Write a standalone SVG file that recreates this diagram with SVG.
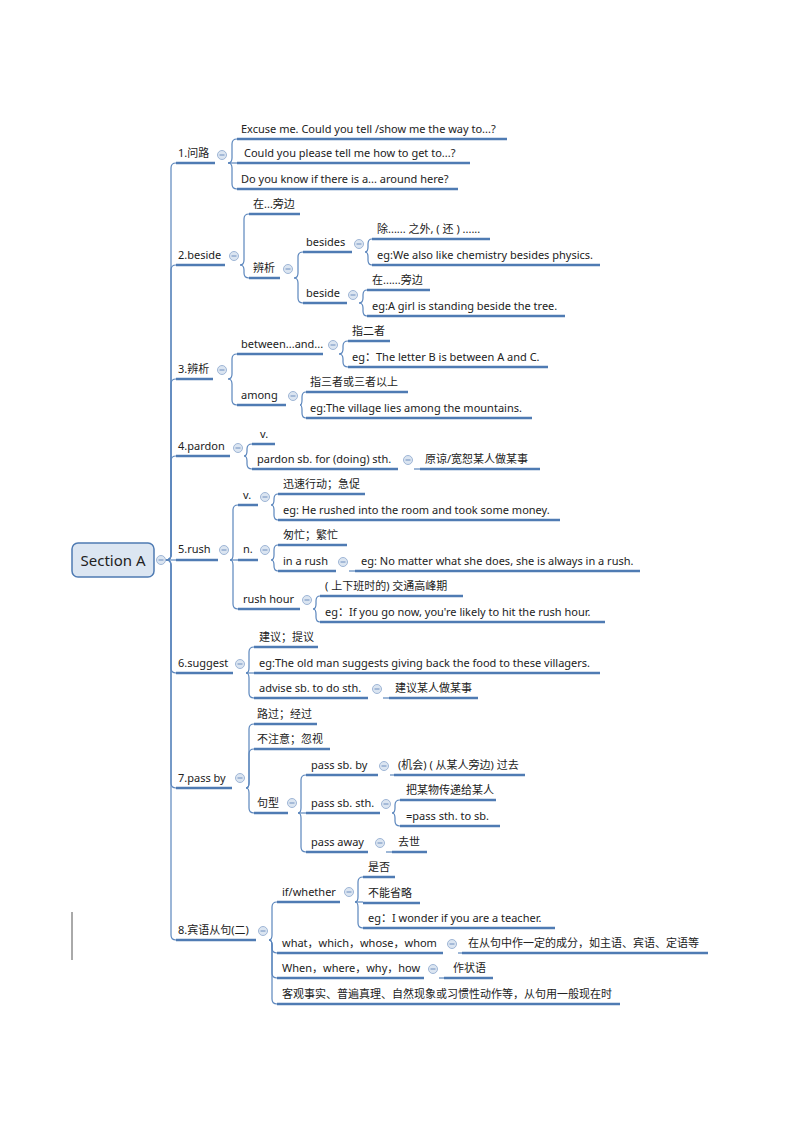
<svg xmlns="http://www.w3.org/2000/svg" xmlns:xlink="http://www.w3.org/1999/xlink" width="794" height="1123" viewBox="0 0 794 1123">
<style>
text{font-family:"Noto Sans","Noto Sans CJK SC",sans-serif;font-size:11px;fill:#222}
.u{stroke:#4f7bb3;stroke-width:2.5;fill:none}
.c path{stroke:#5b86bd;stroke-width:1.2;fill:none}
</style>
<defs>
<g id="m"><circle r="4.5" fill="#dbe5f1" stroke="#9fb6d6" stroke-width="1"/><line x1="-2.5" x2="2.5" stroke="#6f8fbf" stroke-width="1"/></g>
</defs>
<rect width="794" height="1123" fill="#fff"/>
<line x1="72" y1="912" x2="72" y2="960" stroke="#555" stroke-width="1"/>
<g class="c" id="connectors">
<path d="M166 560 Q171 560 171 555 V168 Q171 163 176 163"/>
<path d="M166 560 Q171 560 171 555 V270 Q171 265 176 265"/>
<path d="M166 560 Q171 560 171 555 V384 Q171 379 176 379"/>
<path d="M166 560 Q171 560 171 555 V461 Q171 456 176 456"/>
<path d="M166 560 H176"/>
<path d="M166 560 Q171 560 171 565 V668 Q171 673 176 673"/>
<path d="M166 560 Q171 560 171 565 V783 Q171 788 176 788"/>
<path d="M166 560 Q171 560 171 565 V935 Q171 940 176 940"/>
<path d="M228 163 Q232 163 232 158 V144 Q232 139 237 139"/>
<path d="M228 163 H237"/>
<path d="M228 163 Q232 163 232 168 V184 Q232 189 237 189"/>
<path d="M240 265 Q244 265 244 260 V219 Q244 214 249 214"/>
<path d="M240 265 Q244 265 244 270 V273 Q244 278 249 278"/>
<path d="M294 278 Q298 278 298 273 V257 Q298 252 303 252"/>
<path d="M294 278 Q298 278 298 283 V298 Q298 303 303 303"/>
<path d="M365 252 Q368 252 368 247 V244 Q368 239 372 239"/>
<path d="M365 252 Q368 252 368 257 V260 Q368 265 372 265"/>
<path d="M359 303 Q363 303 363 298 V295 Q363 290 367 290"/>
<path d="M359 303 Q363 303 363 308 V311 Q363 316 367 316"/>
<path d="M228 379 Q232 379 232 374 V359 Q232 354 237 354"/>
<path d="M228 379 Q232 379 232 384 V400 Q232 405 237 405"/>
<path d="M339 354 Q343 354 343 349 V346 Q343 341 348 341"/>
<path d="M339 354 Q343 354 343 359 V362 Q343 367 348 367"/>
<path d="M300 405 Q302 405 302 400 V397 Q302 392 306 392"/>
<path d="M300 405 Q302 405 302 410 V413 Q302 418 306 418"/>
<path d="M244 456 Q247 456 247 451 V449 Q247 444 252 444"/>
<path d="M244 456 Q247 456 247 461 V464 Q247 469 252 469"/>
<path d="M414 469 H420"/>
<path d="M230 560 Q233 560 233 555 V510 Q233 505 238 505"/>
<path d="M230 560 H238"/>
<path d="M230 560 Q233 560 233 565 V604 Q233 609 238 609"/>
<path d="M271 505 Q274 505 274 500 V499 Q274 494 278 494"/>
<path d="M271 505 Q274 505 274 510 V515 Q274 520 278 520"/>
<path d="M271 560 Q274 560 274 555 V550 Q274 545 278 545"/>
<path d="M271 560 Q274 560 274 565 V566 Q274 571 278 571"/>
<path d="M349 571 H355"/>
<path d="M313 609 Q316 609 316 604 V601 Q316 596 320 596"/>
<path d="M313 609 Q316 609 316 614 V617 Q316 622 320 622"/>
<path d="M246 673 Q249 673 249 668 V652 Q249 647 254 647"/>
<path d="M246 673 H254"/>
<path d="M246 673 Q249 673 249 678 V693 Q249 698 254 698"/>
<path d="M383 698 H389"/>
<path d="M246 788 Q249 788 249 783 V729 Q249 724 254 724"/>
<path d="M246 788 Q249 788 249 783 V754 Q249 749 254 749"/>
<path d="M246 788 Q249 788 249 793 V808 Q249 813 254 813"/>
<path d="M298 813 Q301 813 301 808 V780 Q301 775 306 775"/>
<path d="M298 813 H306"/>
<path d="M298 813 Q301 813 301 818 V847 Q301 852 306 852"/>
<path d="M390 775 H394"/>
<path d="M392 813 Q395 813 395 808 V805 Q395 800 400 800"/>
<path d="M392 813 Q395 813 395 818 V821 Q395 826 400 826"/>
<path d="M386 852 H392"/>
<path d="M269 940 Q272 940 272 935 V907 Q272 902 277 902"/>
<path d="M269 940 Q272 940 272 945 V948 Q272 953 277 953"/>
<path d="M269 940 Q272 940 272 945 V973 Q272 978 277 978"/>
<path d="M269 940 Q272 940 272 945 V999 Q272 1004 277 1004"/>
<path d="M355 902 Q358 902 358 897 V882 Q358 877 363 877"/>
<path d="M355 902 H363"/>
<path d="M355 902 Q358 902 358 907 V923 Q358 928 363 928"/>
<path d="M458 953 H462"/>
<path d="M439 978 H444"/>
</g>
<g id="root"><rect x="72" y="543" width="82" height="34" rx="6" fill="#dce6f2" stroke="#4f7bb3" stroke-width="1.5"/><text x="113" y="566" text-anchor="middle" style="font-size:15px">Section A</text><use xlink:href="#m" x="161" y="560"/></g>
<g id="n1"><text x="178" y="157">1.问路</text><line class="u" x1="176" y1="163" x2="215" y2="163"/><use xlink:href="#m" x="222" y="155"/></g>
<g id="n1a"><text x="241" y="133">Excuse me. Could you tell /show me the way to...?</text><line class="u" x1="237" y1="139" x2="507" y2="139"/></g>
<g id="n1b"><text x="244" y="157">Could you please tell me how to get to...?</text><line class="u" x1="237" y1="163" x2="470" y2="163"/></g>
<g id="n1c"><text x="241" y="183">Do you know if there is a... around here?</text><line class="u" x1="237" y1="189" x2="458" y2="189"/></g>
<g id="n2"><text x="178" y="259">2.beside</text><line class="u" x1="176" y1="265" x2="225" y2="265"/><use xlink:href="#m" x="234" y="256"/></g>
<g id="n2a"><text x="253" y="208">在...旁边</text><line class="u" x1="249" y1="214" x2="300" y2="214"/></g>
<g id="n2b"><text x="253" y="272">辨析</text><line class="u" x1="249" y1="278" x2="280" y2="278"/><use xlink:href="#m" x="288" y="269"/></g>
<g id="n2b1"><text x="306" y="246">besides</text><line class="u" x1="303" y1="252" x2="352" y2="252"/><use xlink:href="#m" x="359" y="244"/></g>
<g id="n2b2"><text x="306" y="297">beside</text><line class="u" x1="303" y1="303" x2="347" y2="303"/><use xlink:href="#m" x="353" y="295"/></g>
<g id="n2b1a"><text x="377" y="233">除...... 之外, ( 还 ) ......</text><line class="u" x1="372" y1="239" x2="490" y2="239"/></g>
<g id="n2b1b"><text x="377" y="259">eg:We also like chemistry besides physics.</text><line class="u" x1="372" y1="265" x2="600" y2="265"/></g>
<g id="n2b2a"><text x="372" y="284">在......旁边</text><line class="u" x1="367" y1="290" x2="430" y2="290"/></g>
<g id="n2b2b"><text x="372" y="310">eg:A girl is standing beside the tree.</text><line class="u" x1="367" y1="316" x2="565" y2="316"/></g>
<g id="n3"><text x="178" y="373">3.辨析</text><line class="u" x1="176" y1="379" x2="213" y2="379"/><use xlink:href="#m" x="222" y="370"/></g>
<g id="n3a"><text x="241" y="348">between...and...</text><line class="u" x1="237" y1="354" x2="323" y2="354"/><use xlink:href="#m" x="333" y="345"/></g>
<g id="n3b"><text x="241" y="399">among</text><line class="u" x1="237" y1="405" x2="286" y2="405"/><use xlink:href="#m" x="293" y="396"/></g>
<g id="n3a1"><text x="352" y="335">指二者</text><line class="u" x1="348" y1="341" x2="390" y2="341"/></g>
<g id="n3a2"><text x="352" y="361">eg：The letter B is between A and C.</text><line class="u" x1="348" y1="367" x2="548" y2="367"/></g>
<g id="n3b1"><text x="310" y="386">指三者或三者以上</text><line class="u" x1="306" y1="392" x2="408" y2="392"/></g>
<g id="n3b2"><text x="310" y="412">eg:The village lies among the mountains.</text><line class="u" x1="306" y1="418" x2="532" y2="418"/></g>
<g id="n4"><text x="178" y="450">4.pardon</text><line class="u" x1="176" y1="456" x2="230" y2="456"/><use xlink:href="#m" x="238" y="448"/></g>
<g id="n4a"><text x="260" y="438">v.</text><line class="u" x1="252" y1="444" x2="275" y2="444"/></g>
<g id="n4b"><text x="257" y="463">pardon sb. for (doing) sth.</text><line class="u" x1="252" y1="469" x2="398" y2="469"/><use xlink:href="#m" x="408" y="460"/></g>
<g id="n4b1"><text x="425" y="463">原谅/宽恕某人做某事</text><line class="u" x1="420" y1="469" x2="540" y2="469"/></g>
<g id="n5"><text x="178" y="553">5.rush</text><line class="u" x1="176" y1="560" x2="218" y2="560"/><use xlink:href="#m" x="224" y="550"/></g>
<g id="n5a"><text x="243" y="499">v.</text><line class="u" x1="238" y1="505" x2="258" y2="505"/><use xlink:href="#m" x="265" y="497"/></g>
<g id="n5b"><text x="243" y="553">n.</text><line class="u" x1="238" y1="560" x2="258" y2="560"/><use xlink:href="#m" x="265" y="550"/></g>
<g id="n5c"><text x="243" y="603">rush hour</text><line class="u" x1="238" y1="609" x2="300" y2="609"/><use xlink:href="#m" x="307" y="600"/></g>
<g id="n5a1"><text x="283" y="488">迅速行动；急促</text><line class="u" x1="278" y1="494" x2="365" y2="494"/></g>
<g id="n5a2"><text x="283" y="514">eg: He rushed into the room and took some money.</text><line class="u" x1="278" y1="520" x2="560" y2="520"/></g>
<g id="n5b1"><text x="283" y="539">匆忙；繁忙</text><line class="u" x1="278" y1="545" x2="347" y2="545"/></g>
<g id="n5b2"><text x="283" y="565">in a rush</text><line class="u" x1="278" y1="571" x2="336" y2="571"/><use xlink:href="#m" x="343" y="562"/></g>
<g id="n5b2a"><text x="361" y="565">eg: No matter what she does, she is always in a rush.</text><line class="u" x1="355" y1="571" x2="640" y2="571"/></g>
<g id="n5c1"><text x="325" y="590">( 上下班时的) 交通高峰期</text><line class="u" x1="320" y1="596" x2="463" y2="596"/></g>
<g id="n5c2"><text x="325" y="616">eg：If you go now, you're likely to hit the rush hour.</text><line class="u" x1="320" y1="622" x2="605" y2="622"/></g>
<g id="n6"><text x="178" y="667">6.suggest</text><line class="u" x1="176" y1="673" x2="233" y2="673"/><use xlink:href="#m" x="240" y="664"/></g>
<g id="n6a"><text x="259" y="641">建议；提议</text><line class="u" x1="254" y1="647" x2="318" y2="647"/></g>
<g id="n6b"><text x="259" y="667">eg:The old man suggests giving back the food to these villagers.</text><line class="u" x1="254" y1="673" x2="600" y2="673"/></g>
<g id="n6c"><text x="259" y="692">advise sb. to do sth.</text><line class="u" x1="254" y1="698" x2="368" y2="698"/><use xlink:href="#m" x="377" y="689"/></g>
<g id="n6c1"><text x="395" y="692">建议某人做某事</text><line class="u" x1="389" y1="698" x2="478" y2="698"/></g>
<g id="n7"><text x="178" y="782">7.pass by</text><line class="u" x1="176" y1="788" x2="232" y2="788"/><use xlink:href="#m" x="240" y="778"/></g>
<g id="n7a"><text x="257" y="718">路过；经过</text><line class="u" x1="254" y1="724" x2="317" y2="724"/></g>
<g id="n7b"><text x="257" y="743">不注意；忽视</text><line class="u" x1="254" y1="749" x2="330" y2="749"/></g>
<g id="n7c"><text x="257" y="807">句型</text><line class="u" x1="254" y1="813" x2="288" y2="813"/><use xlink:href="#m" x="292" y="803"/></g>
<g id="n7c1"><text x="311" y="769">pass sb. by</text><line class="u" x1="306" y1="775" x2="378" y2="775"/><use xlink:href="#m" x="384" y="766"/></g>
<g id="n7c1a"><text x="398" y="769">(机会) ( 从某人旁边) 过去</text><line class="u" x1="394" y1="775" x2="525" y2="775"/></g>
<g id="n7c2"><text x="311" y="807">pass sb. sth.</text><line class="u" x1="306" y1="813" x2="380" y2="813"/><use xlink:href="#m" x="386" y="804"/></g>
<g id="n7c2a"><text x="406" y="794">把某物传递给某人</text><line class="u" x1="400" y1="800" x2="496" y2="800"/></g>
<g id="n7c2b"><text x="406" y="820">=pass sth. to sb.</text><line class="u" x1="400" y1="826" x2="500" y2="826"/></g>
<g id="n7c3"><text x="311" y="846">pass away</text><line class="u" x1="306" y1="852" x2="368" y2="852"/><use xlink:href="#m" x="380" y="843"/></g>
<g id="n7c3a"><text x="398" y="846">去世</text><line class="u" x1="392" y1="852" x2="427" y2="852"/></g>
<g id="n8"><text x="178" y="934">8.宾语从句(二)</text><line class="u" x1="176" y1="940" x2="256" y2="940"/><use xlink:href="#m" x="263" y="931"/></g>
<g id="n8a"><text x="282" y="896">if/whether</text><line class="u" x1="277" y1="902" x2="340" y2="902"/><use xlink:href="#m" x="349" y="892"/></g>
<g id="n8a1"><text x="368" y="871">是否</text><line class="u" x1="363" y1="877" x2="395" y2="877"/></g>
<g id="n8a2"><text x="368" y="897">不能省略</text><line class="u" x1="363" y1="903" x2="420" y2="903"/></g>
<g id="n8a3"><text x="368" y="922">eg：I wonder if you are a teacher.</text><line class="u" x1="363" y1="928" x2="555" y2="928"/></g>
<g id="n8b"><text x="282" y="947">what，which，whose，whom</text><line class="u" x1="277" y1="953" x2="443" y2="953"/><use xlink:href="#m" x="452" y="944"/></g>
<g id="n8b1"><text x="468" y="947">在从句中作一定的成分，如主语、宾语、定语等</text><line class="u" x1="462" y1="953" x2="708" y2="953"/></g>
<g id="n8c"><text x="282" y="972">When，where，why，how</text><line class="u" x1="277" y1="978" x2="424" y2="978"/><use xlink:href="#m" x="433" y="969"/></g>
<g id="n8c1"><text x="453" y="972">作状语</text><line class="u" x1="444" y1="978" x2="493" y2="978"/></g>
<g id="n8d"><text x="282" y="998">客观事实、普遍真理、自然现象或习惯性动作等，从句用一般现在时</text><line class="u" x1="277" y1="1004" x2="620" y2="1004"/></g>
</svg>
